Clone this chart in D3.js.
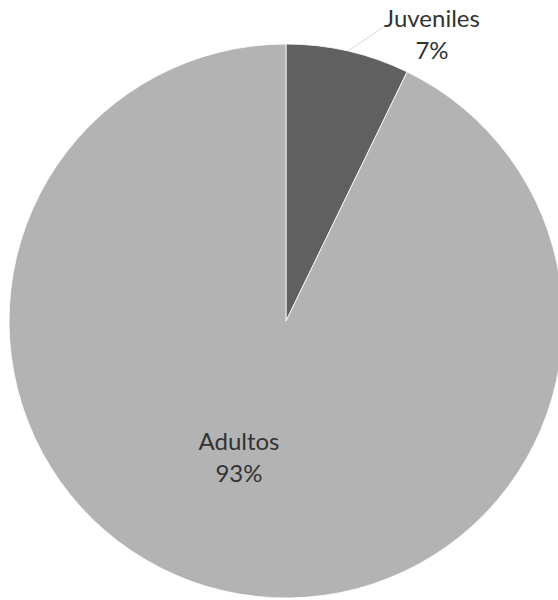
<!DOCTYPE html>
<html><head><meta charset="utf-8">
<script src="https://cdn.jsdelivr.net/npm/d3@7"></script>
<style>body{margin:0;background:#fff}svg{display:block}</style>
</head><body>
<svg id="c" width="558" height="600"></svg>
<script>
const categories = ["Juveniles", "Adultos"];
const values = [7.2, 92.8];
const colors = ["#606060", "#b3b3b3"];

const svg = d3.select("#c");
const cx = 286, cy = 321, r = 277;
const g = svg.append("g").attr("transform", `translate(${cx},${cy})`);
const pie = d3.pie().sort(null).value(d => d.v);
const data = categories.map((c, i) => ({c, v: values[i], col: colors[i]}));
const arcs = pie(data);
const arc = d3.arc().innerRadius(0).outerRadius(r);
g.selectAll("path").data(arcs).enter().append("path")
  .attr("d", arc).attr("fill", d => d.data.col)
  .attr("stroke", "#ffffff").attr("stroke-width", 0.8);

const total = d3.sum(values);
const j = arcs[0];
const jm = (j.startAngle + j.endAngle) / 2;
const p0 = [Math.sin(jm) * r, -Math.cos(jm) * r];
g.append("line").attr("x1", p0[0]).attr("y1", p0[1])
  .attr("x2", 385 - cx).attr("y2", 26 - cy)
  .attr("stroke", "#d9d9d9").attr("stroke-width", 1);
const font = "Lato, 'Open Sans', sans-serif";
function label(x, y, name, pct) {
  const t = svg.append("text").attr("text-anchor", "middle")
    .attr("font-family", font).attr("font-size", 24).attr("fill", "#333333");
  t.append("tspan").attr("x", x).attr("y", y).text(name);
  t.append("tspan").attr("x", x).attr("y", y + 32).text(pct);
}
label(432, 27, categories[0], Math.round(values[0] / total * 100) + "%");
label(239, 450, categories[1], Math.round(values[1] / total * 100) + "%");
</script>
</body></html>
